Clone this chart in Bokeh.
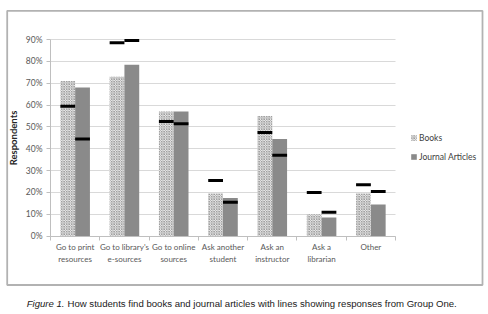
import numpy as np
from bokeh.plotting import figure
from bokeh.models import (Range1d, FixedTicker, PrintfTickFormatter, Legend, LegendItem,
                          Label, ColumnDataSource, BoxAnnotation, Grid)
from bokeh.embed import file_html
from bokeh.resources import INLINE

categories = ["Go to print\nresources", "Go to library's\ne-sources", "Go to online\nsources",
              "Ask another\nstudent", "Ask an\ninstructor", "Ask a\nlibrarian", "Other"]
books = [71, 73, 57, 19.5, 55, 10, 19.5]
journals = [68, 78.5, 57, 17.5, 44.5, 8.5, 14.5]
books_group_one = [59.5, 88.5, 52.5, 25.5, 47.5, 20, 23.5]
journals_group_one = [44.5, 89.5, 51.5, 15.5, 37, 11, 20.5]
y_ticks = [0, 10, 20, 30, 40, 50, 60, 70, 80, 90]
series_names = ["Books", "Journal Articles"]
caption_lead = "Figure 1."
caption_rest = "How students find books and journal articles with lines showing responses from Group One."

FONT = "Lato"
W, H = 486, 312
N = len(categories)
YMAX = 90
# chart area in canvas pixels
CL, CR, CT, CB = 50, 395, 39, 235.7
SX = (CR - CL) / N
SY = (CB - CT) / YMAX
x_start, x_end = -CL / SX, N + (W - CR) / SX
y_start, y_end = -(H - CB) / SY, YMAX + CT / SY


def px_x(px):
    return x_start + px / SX


def px_y(py):
    return y_end - py / SY


centers = np.arange(N) + 0.5
src = ColumnDataSource(dict(
    xb=centers - 0.15, xj=centers + 0.15,
    books=books, journals=journals,
    bg1=books_group_one, jg1=journals_group_one,
))

p = figure(width=W, height=H, output_backend="svg", toolbar_location=None,
           x_range=Range1d(x_start, x_end), y_range=Range1d(y_start, y_end),
           min_border=0, background_fill_color="white", border_fill_color="white")
p.outline_line_color = None

# grid (limited to the chart area)
p.xgrid.visible = False
if "cross_bounds" in Grid.properties():
    p.ygrid.ticker = FixedTicker(ticks=y_ticks)
    p.ygrid.bounds = (0, YMAX)
    p.ygrid.cross_bounds = (0, N)
    p.ygrid.grid_line_color = "#d9d9d9"
else:
    p.ygrid.visible = False
    p.segment(x0=0, x1=N, y0=y_ticks, y1=y_ticks, line_color="#d9d9d9", line_width=1)

books_r = p.vbar(x="xb", top="books", width=0.3, source=src,
                 fill_color="#ececec", line_color=None,
                 hatch_pattern="diagonal_cross", hatch_color="#8a8a8a",
                 hatch_scale=2.5, hatch_weight=0.7)
jour_r = p.vbar(x="xj", top="journals", width=0.3, source=src,
                fill_color="#8a8a8a", line_color=None)
p.rect(x="xb", y="bg1", width=0.3, height=3, height_units="screen", source=src,
       fill_color="black", line_color=None)
p.rect(x="xj", y="jg1", width=0.3, height=3, height_units="screen", source=src,
       fill_color="black", line_color=None)

# y axis (fixed at x = 0)
ya = p.yaxis[0]
ya.fixed_location = 0
ya.bounds = (0, YMAX)
ya.ticker = FixedTicker(ticks=y_ticks)
ya.formatter = PrintfTickFormatter(format="%d%%")
ya.axis_line_color = "#bfbfbf"
ya.major_tick_line_color = "#bfbfbf"
ya.major_tick_out = 4
ya.major_tick_in = 0
ya.minor_tick_line_color = None
ya.major_label_text_font = FONT
ya.major_label_text_font_size = "8.5px"
ya.major_label_text_color = "#595959"
ya.major_label_standoff = 4
ya.axis_label = "Respondents"
ya.axis_label_text_font = FONT
ya.axis_label_text_font_size = "9.5px"
ya.axis_label_text_font_style = "bold"
ya.axis_label_text_color = "#262626"
ya.axis_label_standoff = 4

# x axis (fixed at y = 0)
xa = p.xaxis[0]
xa.fixed_location = 0
xa.bounds = (0, N)
xa.ticker = FixedTicker(ticks=list(centers), minor_ticks=list(range(N + 1)))
xa.major_label_overrides = {float(c): lab for c, lab in zip(centers, categories)}
xa.axis_line_color = "#bfbfbf"
xa.major_tick_out = 0
xa.major_tick_in = 0
xa.major_tick_line_color = None
xa.minor_tick_out = 4
xa.minor_tick_in = 0
xa.minor_tick_line_color = "#bfbfbf"
xa.major_label_text_font = FONT
xa.major_label_text_font_size = "8px"
xa.major_label_text_color = "#595959"
xa.major_label_standoff = 2

# legend
legend = Legend(items=[LegendItem(label=series_names[0], renderers=[books_r]),
                       LegendItem(label=series_names[1], renderers=[jour_r])],
                location=(410, H - 161.5), orientation="vertical",
                glyph_width=7, glyph_height=7, label_height=9, spacing=9,
                label_standoff=2, padding=0, margin=0,
                border_line_color=None, background_fill_alpha=0,
                label_text_font=FONT, label_text_font_size="8.5px",
                label_text_color="#404040")
p.add_layout(legend, "center")

# outer frame box
p.add_layout(BoxAnnotation(left=px_x(6.7), right=px_x(482), top=px_y(10.3), bottom=px_y(284.5),
                           fill_alpha=0, line_color="black", line_width=1.8))

# caption
cap_font = "Liberation Sans"
p.add_layout(Label(x=64, y=H - 303, x_units="screen", y_units="screen",
                   text=caption_lead, text_font=cap_font, text_font_style="italic",
                   text_font_size="9.6px", text_color="#1a1a1a",
                   text_align="right", text_baseline="middle"))
p.add_layout(Label(x=67, y=H - 303, x_units="screen", y_units="screen",
                   text=caption_rest, text_font=cap_font,
                   text_font_size="9.6px", text_color="#1a1a1a",
                   text_align="left", text_baseline="middle"))

open("out.html", "w").write(file_html(p, INLINE))
